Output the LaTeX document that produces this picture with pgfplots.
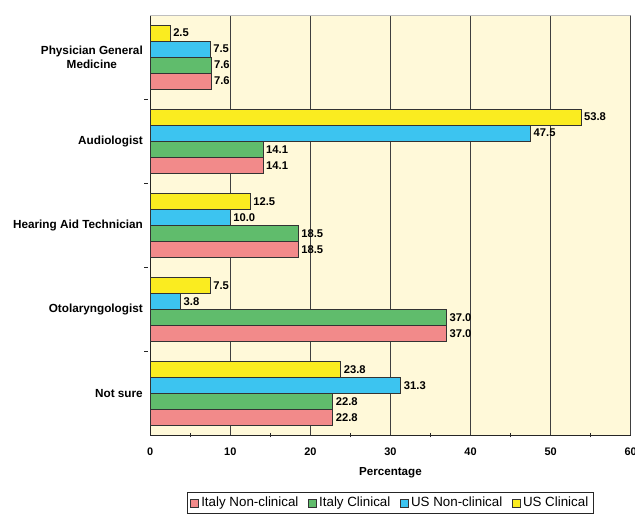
\documentclass[border=0pt]{standalone}
\usepackage{fontspec}
\setmainfont{Liberation Sans}
\usepackage{pgfplots}
\pgfplotsset{compat=1.18}
\definecolor{bgcream}{RGB}{255,249,217}
\definecolor{cred}{RGB}{242,138,138}
\definecolor{cgreen}{RGB}{96,188,108}
\definecolor{cblue}{RGB}{60,196,240}
\definecolor{cyellow}{RGB}{250,236,32}

\begin{document}
\begin{tikzpicture}
\begin{axis}[
  xbar,
  scale only axis,
  width=360pt, height=315pt,
  xmin=0, xmax=60, ymin=-0.5, ymax=4.5,
  bar width=12pt,
  axis background/.style={fill=bgcream},
  axis x line=bottom, axis y line=left,
  axis line style={-, black!85, line width=0.8pt},
  xtick={0,10,...,60},
  minor xtick={5,15,...,55},
  ytick={0,...,4},
  yticklabels={Not sure, Otolaryngologist, Hearing Aid Technician, Audiologist, {Physician General\\Medicine}},
  minor ytick={0.5,1.5,2.5,3.5},
  major tick length=0pt,
  minor tick length=3pt,
  minor y tick style={xshift=-3pt},
  every minor tick/.append style={black!85, line width=0.6pt},
  xmajorgrids,
  major grid style={black!75, line width=0.6pt},
  /pgf/number format/assume math mode=true,
  xticklabel style={font=\bfseries\fontsize{8.2}{10}\selectfont, yshift=-6pt},
  yticklabel style={font=\bfseries\fontsize{8.8}{10.5}\selectfont, align=center, xshift=-2pt},
  xlabel={Percentage},
  xlabel style={font=\bfseries\fontsize{8.7}{10}\selectfont, at={(axis description cs:0.5,0)}, anchor=center, yshift=-27.75pt},
  nodes near coords,
  nodes near coords style={font=\bfseries\fontsize{8.4}{10}\selectfont, /pgf/number format/fixed, /pgf/number format/precision=1, /pgf/number format/fixed zerofill, inner xsep=2pt},
  every axis plot/.append style={draw=black!80, line width=0.6pt},
  legend columns=4,
  legend cell align=left,
  legend style={at={(axis description cs:0.5,0)}, anchor=north, yshift=-42.5pt, draw=black!85, line width=0.6pt, fill=white, font=\fontsize{10}{12}\selectfont, inner xsep=2pt, inner ysep=1.5pt, /tikz/every even column/.append style={column sep=5pt}},
  legend image code/.code={\draw[#1, line width=0.5pt] (0pt,-3pt) rectangle (6pt,3pt);},
]
% y: 0 Not sure, 1 Otolaryngologist, 2 Hearing Aid Technician, 3 Audiologist, 4 Physician
\addplot[fill=cred, bar shift=-18pt] coordinates {(22.8,0) (37.0,1) (18.5,2) (14.1,3) (7.6,4)};
\addplot[fill=cgreen, bar shift=-6pt] coordinates {(22.8,0) (37.0,1) (18.5,2) (14.1,3) (7.6,4)};
\addplot[fill=cblue, bar shift=6pt] coordinates {(31.3,0) (3.8,1) (10.0,2) (47.5,3) (7.5,4)};
\addplot[fill=cyellow, bar shift=18pt] coordinates {(23.8,0) (7.5,1) (12.5,2) (53.8,3) (2.5,4)};
\legend{Italy Non-clinical, Italy Clinical, US Non-clinical, US Clinical}
\draw[black!25] (rel axis cs:0,1) -- (rel axis cs:1,1);
\coordinate (ll) at (rel axis cs:0,0);
\coordinate (ur) at (rel axis cs:1,1);
\end{axis}
\pgfresetboundingbox
\path[use as bounding box] ([xshift=-112.5pt,yshift=-59.25pt]ll) rectangle ([xshift=3.2pt,yshift=11.25pt]ur);
\end{tikzpicture}
\end{document}
